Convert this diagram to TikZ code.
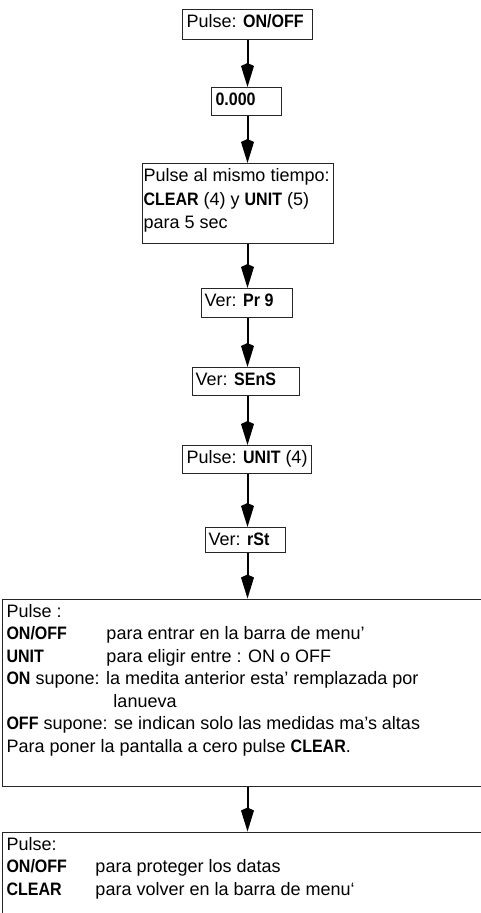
\documentclass[tikz,border=0pt]{standalone}
\usepackage{fontspec}
\usepackage{graphicx}
\setmainfont{Liberation Sans}
\newcommand\B[1]{\scalebox{0.89}[1]{\bfseries #1}}
\usetikzlibrary{arrows.meta}
% width, height, extra setup, content
\newcommand\boxtxt[4]{\parbox[t][#2][t]{#1}{#3\raggedright\rule{0pt}{18pt}#4}}
\begin{document}
\begin{tikzpicture}[x=1pt,y=-1pt,
  box/.style={draw=black!85, line width=1pt, inner xsep=4pt, inner ysep=0pt,
    anchor=north west, font=\fontsize{18}{22.5}\selectfont},
  arr/.style={line width=2pt, -{Kite[length=24pt,width=13pt,inset=3pt]}}]
\useasboundingbox (0,0) rectangle (481,913);
\coordinate (ax) at (247.5,0);

\node[box] (b1) at (182,9) {\boxtxt{122pt}{30pt}{}{Pulse: \B{ON/OFF}}};
\node[box] (b2) at (211,87) {\boxtxt{62pt}{28pt}{\centering}{\B{0.000}}};
\node[box, inner xsep=1pt] (b3) at (142,163) {\boxtxt{189pt}{80pt}{\fontsize{18}{23.5}\selectfont}{Pulse al mismo tiempo:\\
\B{CLEAR} (4) y \B{UNIT} (5)\\
para 5 sec}};
\node[box, inner xsep=3pt] (b4) at (201,288) {\boxtxt{85pt}{29pt}{}{Ver: \B{Pr 9}}};
\node[box, inner xsep=3pt] (b5) at (192,367) {\boxtxt{101pt}{28pt}{}{Ver: \B{SEnS}}};
\node[box] (b6) at (182,445) {\boxtxt{121pt}{28pt}{}{Pulse: \B{UNIT} (4)}};
\node[box, inner xsep=3pt] (b7) at (205,527) {\boxtxt{74pt}{25pt}{}{Ver: \B{rSt}}};
\node[box] (b8) at (2,598.5) {\boxtxt{490pt}{187pt}{}{Pulse :\\
\makebox[100pt][l]{\B{ON/OFF}}para entrar en la barra de menu'\\
\makebox[100pt][l]{\B{UNIT}}para eligir entre : ON o OFF\\
\B{ON} supone: la medita anterior esta' remplazada por\\
\hspace*{107pt}lanueva\\
\B{OFF} supone: se indican solo las medidas ma's altas\\
Para poner la pantalla a cero pulse \B{CLEAR}.}};
\node[box] (b9) at (2,831.5) {\boxtxt{490pt}{100pt}{}{Pulse:\\
\makebox[89pt][l]{\B{ON/OFF}}para proteger los datas\\
\makebox[89pt][l]{\B{CLEAR}}para volver en la barra de menu`}};

\draw[arr] (b1.south -| ax) -- (b2.north -| ax);
\draw[arr] (b2.south -| ax) -- (b3.north -| ax);
\draw[arr] (b3.south -| ax) -- (b4.north -| ax);
\draw[arr] (b4.south -| ax) -- (b5.north -| ax);
\draw[arr] (b5.south -| ax) -- (b6.north -| ax);
\draw[arr] (b6.south -| ax) -- (b7.north -| ax);
\draw[arr] (b7.south -| ax) -- (b8.north -| ax);
\draw[arr] (b8.south -| ax) -- (b9.north -| ax);
\end{tikzpicture}
\end{document}
